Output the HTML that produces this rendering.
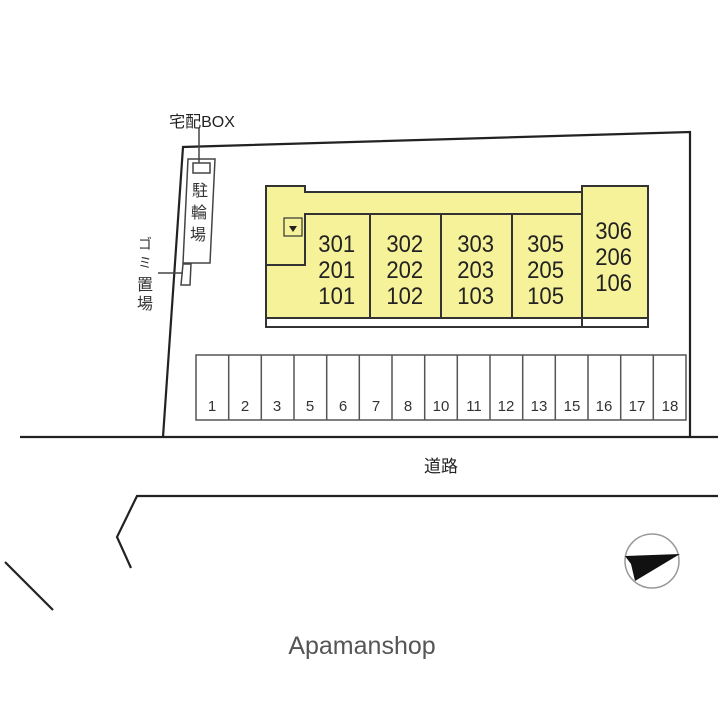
<!DOCTYPE html>
<html><head><meta charset="utf-8"><style>html,body{margin:0;padding:0;background:#fff}svg{display:block}</style></head>
<body>
<svg width="720" height="720" viewBox="0 0 720 720" xmlns="http://www.w3.org/2000/svg" font-family="Liberation Sans, 'Noto Sans CJK JP', sans-serif">
<g stroke="#222" stroke-width="2.2" fill="none">
<polyline points="163,437 183,147 690,132 690,437"/>
<line x1="20" y1="437" x2="718" y2="437"/>
<polyline points="131,568 117,537 137,496 718,496"/>
<line x1="5" y1="562" x2="53" y2="610"/>
</g>
<g stroke="#333" stroke-width="2" fill="#f6f29a">
<polygon points="266,186 305,186 305,192 582,192 582,318 266,318"/>
<rect x="582" y="186" width="66" height="132"/>
</g>
<g stroke="#333" stroke-width="2" fill="none">
<polyline points="266,265 305,265 305,214 582,214"/>
<line x1="370" y1="214" x2="370" y2="327"/>
<line x1="441" y1="214" x2="441" y2="327"/>
<line x1="512" y1="214" x2="512" y2="327"/>
<rect x="266" y="318" width="382" height="9" fill="#fff"/>
<line x1="582" y1="318" x2="582" y2="327"/>
<rect x="284" y="218" width="18" height="18" stroke-width="1.2"/>
</g>
<polygon points="289,226 297,226 293,232" fill="#222"/>
<g font-size="24" fill="#222" text-anchor="middle" transform="scale(0.92,1)">
<text x="366" y="252">301</text><text x="366" y="278">201</text><text x="366" y="304">101</text>
<text x="440" y="252">302</text><text x="440" y="278">202</text><text x="440" y="304">102</text>
<text x="517" y="252">303</text><text x="517" y="278">203</text><text x="517" y="304">103</text>
<text x="593" y="252">305</text><text x="593" y="278">205</text><text x="593" y="304">105</text>
<text x="667" y="239">306</text><text x="667" y="265">206</text><text x="667" y="291">106</text>
</g>
<g stroke="#555" stroke-width="1.5" fill="none">
<rect x="196" y="355" width="490" height="65"/>
<path d="M228.7 355V420M261.3 355V420M294 355V420M326.7 355V420M359.3 355V420M392 355V420M424.7 355V420M457.3 355V420M490 355V420M522.7 355V420M555.3 355V420M588 355V420M620.7 355V420M653.3 355V420"/>
</g>
<g font-size="15" fill="#333" text-anchor="middle">
<text x="212" y="411">1</text><text x="245" y="411">2</text><text x="277" y="411">3</text><text x="310" y="411">5</text><text x="343" y="411">6</text><text x="376" y="411">7</text><text x="408" y="411">8</text><text x="441" y="411">10</text><text x="474" y="411">11</text><text x="506" y="411">12</text><text x="539" y="411">13</text><text x="572" y="411">15</text><text x="604" y="411">16</text><text x="637" y="411">17</text><text x="670" y="411">18</text>
</g>
<g stroke="#444" stroke-width="1.5" fill="none">
<polygon points="188,159 215,159 210,263 183,263"/>
<rect x="193" y="163" width="17" height="10"/>
<line x1="199" y1="128" x2="199" y2="163"/>
<polygon points="183,264 191,264 190,285 181,285"/>
<line x1="158" y1="273" x2="183" y2="273"/>
</g>
<text x="202" y="127" font-size="16" fill="#222" text-anchor="middle">宅配BOX</text>
<g font-size="16" fill="#333" text-anchor="middle">
<text x="200" y="196">駐</text><text x="199" y="218">輪</text><text x="198" y="240">場</text>
<text x="145" y="249" font-size="14">ゴ</text><text x="145" y="268" font-size="14">ミ</text>
<text x="145" y="290">置</text><text x="145" y="309">場</text>
</g>
<text x="441" y="472" font-size="17" fill="#222" text-anchor="middle">道路</text>
<circle cx="652" cy="561" r="27" fill="none" stroke="#999" stroke-width="1.5"/>
<polygon points="625,556 680,554 635,581 631,564" fill="#111"/>
<text x="362" y="654" font-size="25" fill="#555" text-anchor="middle" font-family="Liberation Sans Narrow, Liberation Sans, sans-serif">Apamanshop</text>
</svg>
</body></html>
